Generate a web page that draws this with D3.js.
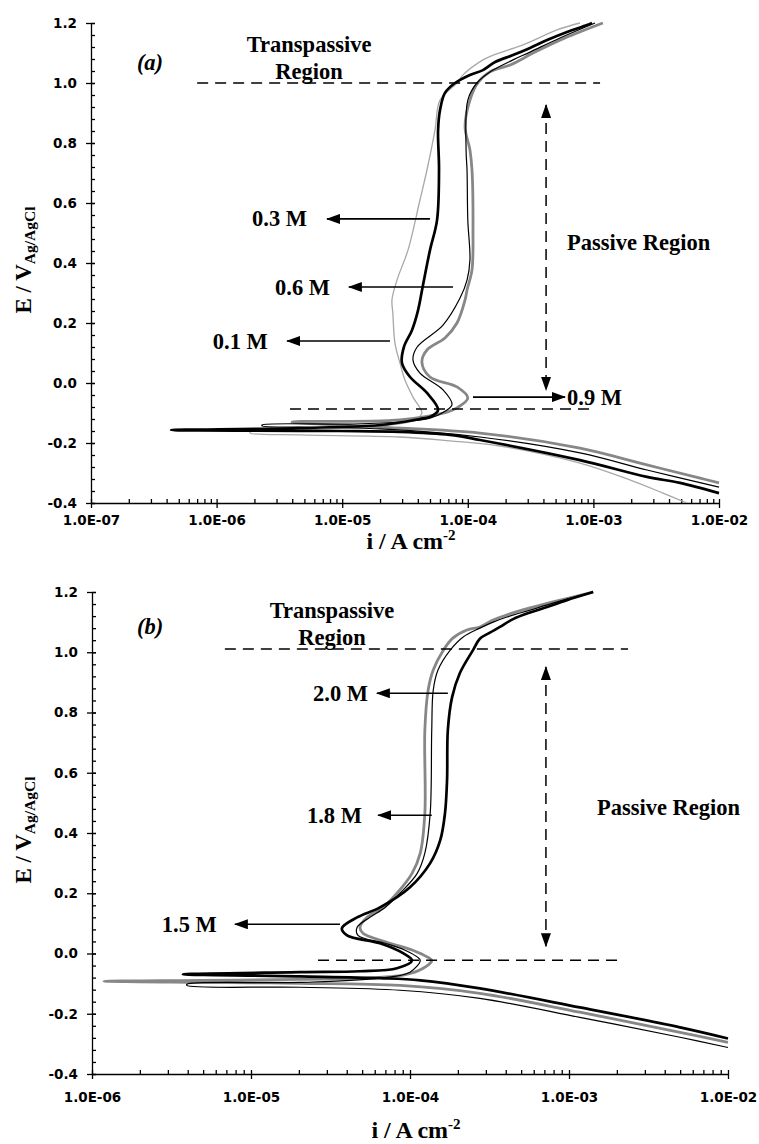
<!DOCTYPE html>
<html>
<head>
<meta charset="utf-8">
<script src="https://cdn.jsdelivr.net/npm/d3@7"></script>
<style>
body { margin: 0; background: #fff; }
</style>
</head>
<body>
<script>

// ---- data, [i (A cm-2), E (V vs Ag/AgCl)] ----

// panel (a)
var a01 = [[5.56e-3,-0.40],[3.58e-3,-0.367],[1.95e-3,-0.323],[7.82e-4,-0.267],[1.8e-4,-0.21],[7.2e-5,-0.193],[2.88e-5,-0.18],[4.61e-6,-0.173],[1.85e-6,-0.167],
  [1.85e-6,-0.163],[4.61e-6,-0.157],[2.0e-5,-0.143],[3.16e-5,-0.133],[3.8e-5,-0.123],[4.31e-5,-0.10],[3.66e-5,-0.047],[3.16e-5,0.01],[2.88e-5,0.067],[2.63e-5,0.133],
  [2.53e-5,0.233],[2.49e-5,0.277],[2.73e-5,0.343],[3.34e-5,0.443],[4.16e-5,0.61],[4.73e-5,0.71],[5.48e-5,0.843],[6.01e-5,0.943],[8.2e-5,1.0],[9.16e-5,1.027],
  [1.32e-4,1.077],[1.59e-4,1.093],[2.75e-4,1.127],[5.13e-4,1.177],[7.82e-4,1.2]];
var a03 = [[1.0e-2,-0.367],[4.89e-3,-0.333],[2.67e-3,-0.313],[7.82e-4,-0.257],[1.25e-4,-0.19],[7.2e-5,-0.173],[2.88e-5,-0.163],[9.6e-6,-0.16],[4.34e-7,-0.157],
  [4.61e-6,-0.15],[2.0e-5,-0.14],[4.16e-5,-0.12],[5.0e-5,-0.113],[5.8e-5,-0.09],[4.73e-5,-0.033],[3.47e-5,0.02],[2.99e-5,0.067],[3.10e-5,0.12],[3.6e-5,0.177],
  [4.02e-5,0.243],[4.40e-5,0.327],[5.0e-5,0.443],[5.69e-5,0.543],[5.9e-5,0.71],[5.8e-5,0.843],[6.01e-5,0.91],[6.58e-5,0.967],[7.91e-5,1.0],[1.04e-4,1.027],
  [1.32e-4,1.043],[1.65e-4,1.07],[2.29e-4,1.093],[3.13e-4,1.117],[4.28e-4,1.143],[6.17e-4,1.17],[8.89e-4,1.193],[9.75e-4,1.2]];
var a06 = [[1.0e-2,-0.347],[2.67e-3,-0.29],[7.82e-4,-0.233],[1.25e-4,-0.18],[2.0e-5,-0.153],[4.61e-6,-0.147],[2.3e-6,-0.143],
  [2.3e-6,-0.14],[1.15e-5,-0.137],[2.88e-5,-0.13],[5.0e-5,-0.117],[6.24e-5,-0.10],[7.48e-5,-0.073],[6.35e-5,-0.023],[4.16e-5,0.033],[3.66e-5,0.077],[3.95e-5,0.12],
  [6.35e-5,0.193],[8.67e-5,0.283],[9.86e-5,0.343],[1.04e-4,0.41],[1.0e-4,0.543],[9.86e-5,0.71],[9.69e-5,0.777],[1.0e-4,0.943],[1.18e-4,1.0],[1.5e-4,1.037],
  [2.29e-4,1.077],[3.13e-4,1.103],[5.42e-4,1.15],[1.03e-3,1.2]];
var a09 = [[1.0e-2,-0.333],[7.07e-3,-0.317],[2.67e-3,-0.273],[7.82e-4,-0.217],[1.25e-4,-0.167],[2.0e-5,-0.147],[3.98e-6,-0.13],
  [2.88e-5,-0.123],[6.82e-5,-0.097],[8.2e-5,-0.083],[1.0e-4,-0.05],[8.2e-5,-0.013],[5.0e-5,0.02],[4.31e-5,0.07],[4.73e-5,0.11],[6.58e-5,0.15],[8.2e-5,0.2],
  [9.51e-5,0.277],[9.86e-5,0.31],[1.08e-4,0.377],[1.10e-4,0.51],[1.08e-4,0.71],[1.04e-4,0.777],[9.51e-5,0.853],[1.04e-4,0.943],[1.2e-4,1.0],[1.5e-4,1.037],
  [2.17e-4,1.06],[3.43e-4,1.103],[5.94e-4,1.15],[1.19e-3,1.2]];

// panel (b)
var b15 = [[1.0e-2,-0.282],[4.99e-3,-0.245],[1.17e-3,-0.179],[2.75e-4,-0.116],[1.16e-4,-0.089],[6.47e-5,-0.082],[2.03e-5,-0.076],[3.73e-6,-0.069],
  [2.03e-5,-0.062],[4.85e-5,-0.059],[8.28e-5,-0.049],[1.03e-4,-0.023],[9.04e-5,0.001],[6.47e-5,0.034],[4.02e-5,0.06],[3.73e-5,0.084],[4.65e-5,0.12],[6.47e-5,0.153],
  [1.0e-4,0.22],[1.34e-4,0.30],[1.55e-4,0.376],[1.66e-4,0.466],[1.71e-4,0.575],[1.73e-4,0.742],[1.84e-4,0.851],[2.06e-4,0.931],[2.49e-4,1.007],[2.75e-4,1.045],
  [3.18e-4,1.065],[3.68e-4,1.084],[4.45e-4,1.11],[5.69e-4,1.132],[7.28e-4,1.15],[9.7e-4,1.173],[1.42e-3,1.2]];
var b18 = [[1.0e-2,-0.312],[4.99e-3,-0.278],[1.17e-3,-0.212],[2.75e-4,-0.149],[8.65e-5,-0.122],[2.03e-5,-0.112],[3.95e-6,-0.106],
  [3.95e-6,-0.102],[2.03e-5,-0.096],[6.47e-5,-0.082],[1.0e-4,-0.062],[1.16e-4,-0.023],[1.12e-4,-0.013],[9.31e-5,0.011],[6.97e-5,0.034],[4.71e-5,0.06],[4.65e-5,0.087],
  [5.6e-5,0.12],[6.97e-5,0.153],[8.65e-5,0.20],[1.11e-4,0.266],[1.24e-4,0.333],[1.34e-4,0.466],[1.37e-4,0.742],[1.40e-4,0.874],[1.5e-4,0.941],[1.79e-4,1.007],
  [2.15e-4,1.05],[2.75e-4,1.08],[3.33e-4,1.10],[4.07e-4,1.117],[5.69e-4,1.14],[7.93e-4,1.163],[1.40e-3,1.2]];
var b20 = [[1.0e-2,-0.295],[4.99e-3,-0.262],[1.17e-3,-0.195],[2.75e-4,-0.132],[8.65e-5,-0.106],[2.03e-5,-0.099],[4.78e-6,-0.096],[1.19e-6,-0.092],
  [4.78e-6,-0.089],[2.03e-5,-0.086],[6.47e-5,-0.079],[9.04e-5,-0.072],[1.21e-4,-0.049],[1.37e-4,-0.023],[1.30e-4,-0.013],[1.04e-4,0.011],[7.16e-5,0.037],[5.06e-5,0.067],
  [4.85e-5,0.087],[5.37e-5,0.12],[6.76e-5,0.153],[8.28e-5,0.20],[1.03e-4,0.266],[1.16e-4,0.333],[1.24e-4,0.466],[1.24e-4,0.742],[1.30e-4,0.874],[1.40e-4,0.941],
  [1.62e-4,1.007],[1.86e-4,1.047],[2.28e-4,1.074],[2.75e-4,1.084],[3.33e-4,1.107],[4.07e-4,1.124],[5.69e-4,1.147],[7.93e-4,1.167],[1.42e-3,1.2]];

// ticks
var yTicks = [-0.4, -0.2, 0, 0.2, 0.4, 0.6, 0.8, 1.0, 1.2];
var yTickLabels = ["-0.4", "-0.2", "0.0", "0.2", "0.4", "0.6", "0.8", "1.0", "1.2"];
var xTicksA = [1e-7, 1e-6, 1e-5, 1e-4, 1e-3, 1e-2];
var xTickLabelsA = ["1.0E-07", "1.0E-06", "1.0E-05", "1.0E-04", "1.0E-03", "1.0E-02"];
var xTicksB = [1e-6, 1e-5, 1e-4, 1e-3, 1e-2];
var xTickLabelsB = ["1.0E-06", "1.0E-05", "1.0E-04", "1.0E-03", "1.0E-02"];

// annotations (data coords)
// dashed region limits: [i1, i2, E]
var limitsA = [[7.0e-7, 1.13e-3, 1.0], [3.84e-6, 9.9e-4, -0.087]];
var limitsB = [[6.85e-6, 2.35e-3, 1.011], [2.64e-5, 2.19e-3, -0.022]];
// passive range arrow: [i, E top, E bottom]
var passiveA = [4.2e-4, 0.927, -0.023];
var passiveB = [7.16e-4, 0.951, 0.024];
// concentration arrows: [label, i from, i to (tip), E, i of label, label anchor]
var concA = [["0.3 M", 5.0e-5, 7.57e-6, 0.547, 5.25e-6, "end"],
             ["0.6 M", 7.62e-5, 1.13e-5, 0.32, 8.0e-6, "end"],
             ["0.1 M", 2.4e-5, 3.64e-6, 0.14, 2.56e-6, "end"],
             ["0.9 M", 1.1e-4, 5.94e-4, -0.047, 6.17e-4, "start"]];
var concB = [["2.0 M", 1.73e-4, 6.19e-5, 0.864, 5.45e-5, "end"],
             ["1.8 M", 1.37e-4, 6.3e-5, 0.459, 4.99e-5, "end"],
             ["1.5 M", 3.63e-5, 7.92e-6, 0.097, 6.1e-6, "end"]];

var serif = "'Liberation Serif', 'Times New Roman', serif";
var sans = "'DejaVu Sans', Verdana, sans-serif";
var annSize = "22.5px";

var svg = d3.select("body").append("svg")
    .attr("width", 759)
    .attr("height", 1144)
    .style("display", "block");

var defs = svg.append("defs");
defs.append("marker")
    .attr("id", "head")
    .attr("viewBox", "0 0 14 10")
    .attr("refX", 13).attr("refY", 5)
    .attr("markerWidth", 14).attr("markerHeight", 10)
    .attr("markerUnits", "userSpaceOnUse")
    .attr("orient", "auto-start-reverse")
  .append("path")
    .attr("d", "M0,0 L14,5 L0,10 Z")
    .attr("fill", "#000");

function drawPanel(p) {
    var x = d3.scaleLog().domain(p.xDomain).range([p.left, p.right]);
    var y = d3.scaleLinear().domain([-0.4, 1.2]).range([p.bottom, p.top]);
    var g = svg.append("g");

    var clipId = "clip" + p.tag;
    defs.append("clipPath").attr("id", clipId)
      .append("rect")
        .attr("x", p.left).attr("y", p.top - 2)
        .attr("width", p.right - p.left + 2).attr("height", p.bottom - p.top + 2);

    // y axis: major ticks crossing, minor ticks inside
    var yMinor = d3.range(0, 41).map(function(k) { return -0.4 + k * 0.04; });
    g.append("g")
        .attr("transform", "translate(" + p.left + ",0)")
        .call(d3.axisRight(y).tickValues(yMinor).tickSize(4).tickFormat(""))
        .call(function(a) { a.select(".domain").remove(); });
    var ya = g.append("g")
        .attr("transform", "translate(" + p.left + ",0)")
        .call(d3.axisLeft(y).tickValues(yTicks).tickSize(5).tickSizeOuter(0).tickPadding(9)
            .tickFormat(function(d, i) { return yTickLabels[i]; }));
    ya.append("g").call(d3.axisRight(y).tickValues(yTicks).tickSize(4).tickSizeOuter(0).tickFormat(""))
        .call(function(a) { a.select(".domain").remove(); });

    // x axis
    var xMinor = [];
    p.xTicks.slice(0, -1).forEach(function(t) {
        for (var m = 2; m <= 9; m++) xMinor.push(t * m);
    });
    g.append("g")
        .attr("transform", "translate(0," + p.bottom + ")")
        .call(d3.axisTop(x).tickValues(xMinor).tickSize(4).tickFormat(""))
        .call(function(a) { a.select(".domain").remove(); });
    var xa = g.append("g")
        .attr("transform", "translate(0," + p.bottom + ")")
        .call(d3.axisBottom(x).tickValues(p.xTicks).tickSize(5).tickSizeOuter(0).tickPadding(p.xPad)
            .tickFormat(function(d, i) { return p.xLabels[i]; }));
    xa.append("g").call(d3.axisTop(x).tickValues(p.xTicks).tickSize(4).tickSizeOuter(0).tickFormat(""))
        .call(function(a) { a.select(".domain").remove(); });

    g.selectAll(".domain, .tick line").attr("stroke", "#000").attr("stroke-width", 1.3);
    g.selectAll(".tick text")
        .attr("fill", "#000")
        .style("font-family", sans)
        .style("font-weight", "bold")
        .style("font-size", "13.5px");

    // axis titles
    var yt = g.append("text")
        .attr("transform", "translate(31," + ((p.top + p.bottom) / 2 - 3) + ") rotate(-90)")
        .attr("text-anchor", "middle")
        .style("font-family", serif).style("font-weight", "bold").style("font-size", "23px");
    yt.append("tspan").text("E / V");
    yt.append("tspan").attr("dy", 4).style("font-size", "15.5px").text("Ag/AgCl");

    var xt = g.append("text")
        .attr("x", (p.left + p.right) / 2 + 6)
        .attr("y", p.bottom + p.titleOff)
        .attr("text-anchor", "middle")
        .style("font-family", serif).style("font-weight", "bold").style("font-size", "24px");
    xt.append("tspan").text("i / A cm");
    xt.append("tspan").attr("dy", -9).style("font-size", "15px").text("-2");

    // curves
    var line = d3.line()
        .x(function(d) { return x(d[0]); })
        .y(function(d) { return y(d[1]); })
        .curve(d3.curveCatmullRom.alpha(0.5));
    g.append("g").attr("clip-path", "url(#" + clipId + ")")
      .selectAll("path")
        .data(p.curves)
        .enter().append("path")
        .attr("d", function(c) { return line(c.data); })
        .attr("fill", "none")
        .attr("stroke", function(c) { return c.color; })
        .attr("stroke-width", function(c) { return c.width; })
        .attr("stroke-linejoin", "round");

    // dashed limits
    g.selectAll(".limit")
        .data(p.limits)
        .enter().append("line")
        .attr("x1", function(d) { return x(d[0]); })
        .attr("x2", function(d) { return x(d[1]); })
        .attr("y1", function(d) { return y(d[2]); })
        .attr("y2", function(d) { return y(d[2]); })
        .attr("stroke", "#000").attr("stroke-width", 1.5)
        .attr("stroke-dasharray", "11,7");

    // passive range double arrow
    g.append("line")
        .attr("x1", x(p.passive[0])).attr("x2", x(p.passive[0]))
        .attr("y1", y(p.passive[1])).attr("y2", y(p.passive[2]))
        .attr("stroke", "#000").attr("stroke-width", 1.5)
        .attr("stroke-dasharray", "11,7")
        .attr("marker-start", "url(#head)")
        .attr("marker-end", "url(#head)");

    // concentration arrows and labels
    g.selectAll(".conc")
        .data(p.conc)
        .enter().append("line")
        .attr("x1", function(d) { return x(d[1]); })
        .attr("x2", function(d) { return x(d[2]); })
        .attr("y1", function(d) { return y(d[3]); })
        .attr("y2", function(d) { return y(d[3]); })
        .attr("stroke", "#000").attr("stroke-width", 1.6)
        .attr("marker-end", "url(#head)");
    g.selectAll(".concLabel")
        .data(p.conc)
        .enter().append("text")
        .attr("x", function(d) { return x(d[4]); })
        .attr("y", function(d) { return y(d[3]) + 7.5; })
        .attr("text-anchor", function(d) { return d[5]; })
        .style("font-family", serif).style("font-weight", "bold").style("font-size", annSize)
        .text(function(d) { return d[0]; });

    // region labels
    g.append("text")
        .attr("x", x(p.trans[0])).attr("y", y(p.trans[1]) + 7.5)
        .attr("text-anchor", "middle")
        .style("font-family", serif).style("font-weight", "bold").style("font-size", annSize)
        .text("Transpassive");
    g.append("text")
        .attr("x", x(p.trans[0])).attr("y", y(p.trans[2]) + 7.5)
        .attr("text-anchor", "middle")
        .style("font-family", serif).style("font-weight", "bold").style("font-size", annSize)
        .text("Region");
    g.append("text")
        .attr("x", x(p.passLabel[0])).attr("y", y(p.passLabel[1]) + 7.5)
        .style("font-family", serif).style("font-weight", "bold").style("font-size", annSize)
        .text("Passive Region");
    g.append("text")
        .attr("x", x(p.tagPos[0])).attr("y", y(p.tagPos[1]) + 7.5)
        .attr("text-anchor", "middle")
        .style("font-family", serif).style("font-weight", "bold").style("font-style", "italic")
        .style("font-size", annSize)
        .text("(" + p.tag + ")");
}

drawPanel({
    tag: "a",
    left: 91, right: 719, top: 23, bottom: 503,
    xDomain: [1e-7, 1e-2], xTicks: xTicksA, xLabels: xTickLabelsA,
    xPad: 7, titleOff: 46,
    curves: [
        { data: a01, color: "#a8a8a8", width: 1.3 },
        { data: a09, color: "#878787", width: 2.8 },
        { data: a06, color: "#000", width: 1.2 },
        { data: a03, color: "#000", width: 2.7 }
    ],
    limits: limitsA,
    passive: passiveA,
    conc: concA,
    trans: [5.45e-6, 1.127, 1.037],
    passLabel: [6.17e-4, 0.467],
    tagPos: [2.95e-7, 1.07]
});

drawPanel({
    tag: "b",
    left: 92, right: 728, top: 592, bottom: 1074,
    xDomain: [1e-6, 1e-2], xTicks: xTicksB, xLabels: xTickLabelsB,
    xPad: 13, titleOff: 64,
    curves: [
        { data: b20, color: "#878787", width: 2.8 },
        { data: b18, color: "#000", width: 1.2 },
        { data: b15, color: "#000", width: 2.7 }
    ],
    limits: limitsB,
    passive: passiveB,
    conc: concB,
    trans: [3.23e-5, 1.14, 1.05],
    passLabel: [1.5e-3, 0.486],
    tagPos: [2.32e-6, 1.084]
});

</script>
</body>
</html>
